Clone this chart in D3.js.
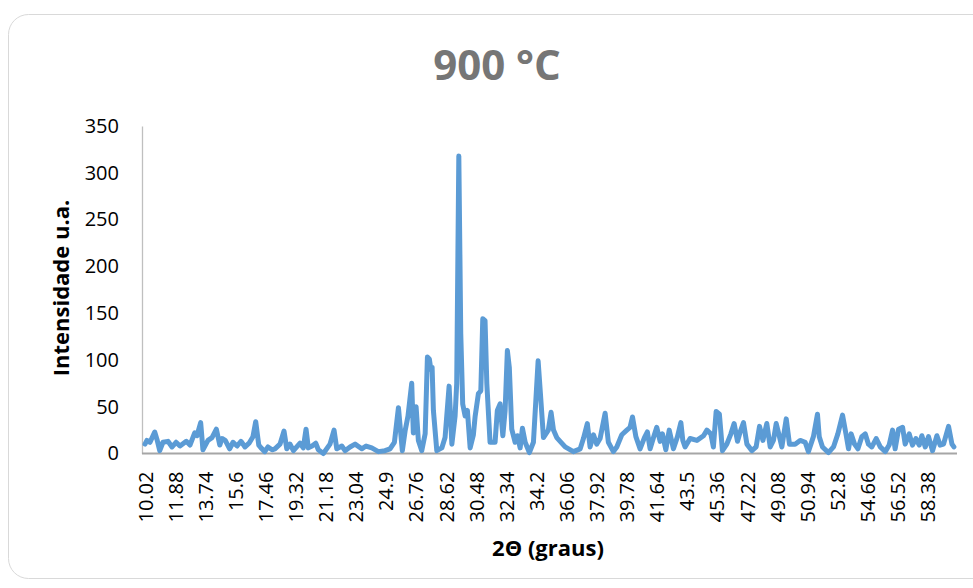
<!DOCTYPE html>
<html>
<head>
<meta charset="utf-8">
<script src="https://cdn.jsdelivr.net/npm/d3@7"></script>
<style>
  body { margin: 0; background: #fff; }
  svg { display: block; font-family: "Open Sans", "Noto Sans", sans-serif; }
</style>
</head>
<body>
<script>
// Chart size
const width = 973;
const height = 588;

// Data (2θ in degrees, intensity in a.u.)
const twoTheta = [
  10.02, 10.14, 10.33, 10.62, 10.76, 10.93, 11.13, 11.44, 11.69, 11.94, 12.18, 12.57, 12.80, 13.09, 13.23, 13.46,
  13.60, 13.91, 14.16, 14.43, 14.64, 14.78, 14.98, 15.25, 15.46, 15.71, 15.95, 16.20, 16.45, 16.69, 16.86, 17.05,
  17.19, 17.42, 17.62, 17.87, 18.05, 18.36, 18.61, 18.78, 18.98, 19.19, 19.60, 19.80, 19.97, 20.11, 20.34, 20.57,
  20.73, 21.04, 21.45, 21.70, 21.87, 22.18, 22.38, 22.69, 23.00, 23.41, 23.68, 24.03, 24.44, 24.85, 25.16, 25.43,
  25.68, 25.92, 26.09, 26.27, 26.50, 26.60, 26.77, 26.91, 27.12, 27.33, 27.47, 27.59, 27.68, 27.76, 27.84, 28.05,
  28.36, 28.56, 28.81, 28.98, 29.18, 29.28, 29.41, 29.53, 29.65, 29.80, 29.94, 30.11, 30.31, 30.42, 30.62, 30.77,
  30.89, 31.03, 31.14, 31.34, 31.65, 31.79, 31.96, 32.13, 32.27, 32.41, 32.53, 32.68, 32.89, 33.03, 33.20, 33.34,
  33.51, 33.77, 34.02, 34.31, 34.48, 34.64, 34.94, 35.11, 35.26, 35.46, 35.67, 35.98, 36.49, 36.91, 37.11, 37.35,
  37.52, 37.73, 37.93, 38.14, 38.45, 38.65, 38.96, 39.17, 39.48, 39.79, 39.99, 40.14, 40.35, 40.61, 40.88, 41.06,
  41.23, 41.44, 41.64, 41.85, 41.99, 42.20, 42.41, 42.67, 42.92, 43.13, 43.25, 43.39, 43.70, 44.12, 44.53, 44.74,
  44.98, 45.14, 45.31, 45.51, 45.70, 45.97, 46.22, 46.42, 46.63, 46.79, 47.00, 47.21, 47.52, 47.78, 47.99, 48.20,
  48.44, 48.65, 48.85, 49.02, 49.22, 49.37, 49.64, 49.84, 50.19, 50.50, 50.81, 51.01, 51.32, 51.57, 51.68, 51.88,
  52.25, 52.56, 52.83, 53.12, 53.33, 53.49, 53.65, 53.86, 54.07, 54.31, 54.52, 54.72, 54.93, 55.20, 55.45, 55.76,
  56.00, 56.21, 56.37, 56.58, 56.83, 56.99, 57.24, 57.44, 57.65, 57.86, 58.02, 58.23, 58.43, 58.68, 58.95, 59.15,
  59.36, 59.67, 59.88, 60.00
];
const intensity = [
  10, 14, 12, 23, 15, 3, 12, 13, 7, 12, 8, 13, 9, 22, 19, 33,
  4, 14, 17, 26, 9, 16, 14, 5, 12, 8, 13, 7, 11, 18, 34, 9,
  6, 2, 7, 4, 5, 10, 24, 5, 10, 3, 11, 6, 26, 6, 8, 11,
  4, 0, 10, 25, 5, 8, 3, 7, 10, 5, 8, 6, 2, 3, 5, 12,
  49, 3, 24, 40, 75, 22, 50, 14, 3, 21, 103, 101, 90, 92, 46, 3,
  6, 17, 72, 10, 40, 75, 318, 128, 53, 40, 46, 6, 20, 40, 64, 67,
  144, 142, 75, 12, 12, 46, 53, 19, 46, 110, 92, 26, 12, 19, 6, 27,
  12, 1, 12, 99, 57, 17, 25, 44, 25, 17, 13, 7, 2, 5, 16, 32,
  7, 20, 10, 16, 43, 12, 2, 7, 20, 25, 28, 39, 18, 5, 17, 23,
  5, 17, 28, 13, 21, 4, 25, 5, 18, 33, 14, 7, 16, 14, 19, 25,
  21, 7, 45, 42, 3, 10, 21, 32, 13, 23, 33, 10, 3, 7, 29, 14,
  32, 7, 14, 32, 18, 7, 37, 10, 10, 14, 12, 2, 18, 42, 18, 7,
  1, 7, 21, 41, 21, 5, 21, 10, 5, 18, 21, 10, 7, 16, 7, 2,
  9, 25, 5, 26, 28, 10, 21, 9, 16, 9, 19, 7, 18, 3, 19, 9,
  10, 29, 10, 7
];

// Axis labels
const xTickLabels = ["10.02", "11.88", "13.74", "15.6", "17.46", "19.32", "21.18", "23.04", "24.9",
  "26.76", "28.62", "30.48", "32.34", "34.2", "36.06", "37.92", "39.78", "41.64", "43.5",
  "45.36", "47.22", "49.08", "50.94", "52.8", "54.66", "56.52", "58.38"];
const yTicks = [0, 50, 100, 150, 200, 250, 300, 350];

const points = twoTheta.map((t, i) => ({ x: t, y: intensity[i] }));

const svg = d3.select("body")
  .append("svg")
  .attr("width", width)
  .attr("height", height);

// Chart area frame
svg.append("rect")
  .attr("x", 8.5).attr("y", 14.5)
  .attr("width", 1000).attr("height", 564)
  .attr("rx", 20)
  .attr("fill", "#fff")
  .attr("stroke", "#d9d9d9")
  .attr("stroke-width", 1);

// Scales
const x = d3.scaleLinear().domain([10.02, 60.0]).range([145, 953.9]);
const y = d3.scaleLinear().domain([0, 350]).range([453.5, 126]);

// Title
svg.append("text")
  .attr("x", 497).attr("y", 80)
  .attr("text-anchor", "middle")
  .style("font-size", "42px")
  .style("font-weight", "bold")
  .style("fill", "#767676")
  .text("900 °C");

// Y axis
const yAxis = svg.append("g")
  .attr("transform", "translate(142,0)")
  .call(d3.axisLeft(y).tickValues(yTicks).tickSize(0).tickPadding(23));
yAxis.select(".domain").attr("stroke", "#bfbfbf").attr("stroke-width", 1.3);
yAxis.selectAll("text").style("font-size", "20px").style("fill", "#000")
  .style("font-family", "'Open Sans', sans-serif");

// X axis (category labels every 1.86°)
const xAxis = svg.append("g")
  .attr("transform", `translate(0,${y(0)})`)
  .call(d3.axisBottom(x)
    .tickValues(xTickLabels.map(Number))
    .tickFormat((d, i) => xTickLabels[i])
    .tickSize(0));
xAxis.select(".domain").attr("d", `M142,0H957`).attr("stroke", "#a6a6a6").attr("stroke-width", 2.2);
xAxis.selectAll("text")
  .attr("transform", "rotate(-90)")
  .attr("text-anchor", "end")
  .attr("x", -18)
  .attr("y", 0)
  .attr("dy", "0.35em")
  .style("font-size", "20px")
  .style("fill", "#000")
  .style("font-family", "'Open Sans', sans-serif");

// Axis titles
svg.append("text")
  .attr("x", 548).attr("y", 556)
  .attr("text-anchor", "middle")
  .style("font-size", "22px")
  .style("font-weight", "bold")
  .text("2Θ (graus)");

svg.append("text")
  .attr("transform", "translate(69,288) rotate(-90)")
  .attr("text-anchor", "middle")
  .style("font-size", "22px")
  .style("font-weight", "bold")
  .text("Intensidade u.a.");

// Diffractogram line
const line = d3.line()
  .x(d => x(d.x))
  .y(d => y(d.y));

svg.append("path")
  .datum(points)
  .attr("fill", "none")
  .attr("stroke", "#5b9bd5")
  .attr("stroke-width", 5)
  .attr("stroke-linejoin", "round")
  .attr("stroke-linecap", "round")
  .attr("d", line);
</script>
</body>
</html>
